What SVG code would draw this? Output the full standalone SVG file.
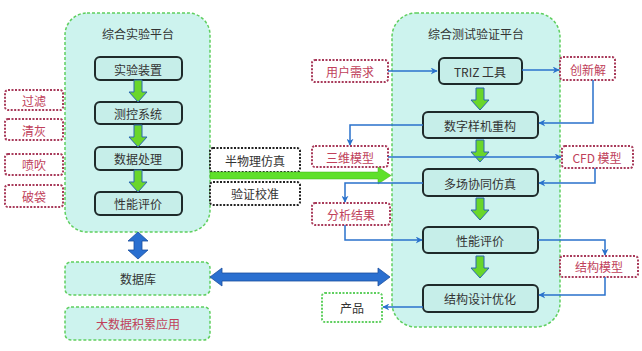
<svg xmlns="http://www.w3.org/2000/svg" width="642" height="351" viewBox="0 0 642 351">
<defs>
<style>
.plat{fill:#cdf3ee;stroke:#5fcf5f;stroke-width:1.5;stroke-dasharray:3 2}
.box{fill:#c6eee9;stroke:#1e2a2a;stroke-width:2}
.red{fill:#ffffff;stroke:#a83a5a;stroke-width:2;stroke-dasharray:2 1.5}
.blk{fill:#ffffff;stroke:#222;stroke-width:2;stroke-dasharray:2 1.5}
.grn{fill:#ffffff;stroke:#5fcf5f;stroke-width:2;stroke-dasharray:2 1.5}
.t{font-family:"Noto Sans CJK SC","Liberation Sans",sans-serif;font-size:12px;text-anchor:middle;dominant-baseline:central;fill:#333}
.tr{fill:#c0405a}
.bl{fill:none;stroke:#2a72cc;stroke-width:1.5}
.ga{fill:#6ad62a;stroke:#2a66b0;stroke-width:1}
</style>
<marker id="ah" viewBox="0 0 10 10" refX="9" refY="5" markerWidth="7" markerHeight="7" orient="auto" markerUnits="userSpaceOnUse">
<path d="M0,0 L10,5 L0,10 L3,5 z" fill="#2a72cc"/>
</marker>
<path id="gdown" d="M-4,0 H4 V12 H9 L0,22 L-9,12 H-4 z"/>
</defs>

<g id="left-platform">
<rect class="plat" x="65" y="13" width="145" height="219" rx="22"/>
<text class="t" x="138" y="33">综合实验平台</text>
</g>
<g id="test-platform">
<rect class="plat" x="392" y="13" width="168" height="314" rx="24"/>
<text class="t" x="476" y="33">综合测试验证平台</text>
</g>

<g id="n-syzz"><rect class="box" x="95" y="57" width="87" height="23" rx="5"/><text class="t" x="138" y="69">实验装置</text></g>
<g id="n-ckxt"><rect class="box" x="95" y="102" width="87" height="22" rx="5"/><text class="t" x="138" y="113">测控系统</text></g>
<g id="n-sjcl"><rect class="box" x="95" y="147" width="87" height="23" rx="5"/><text class="t" x="138" y="158">数据处理</text></g>
<g id="n-xnpj1"><rect class="box" x="95" y="192" width="87" height="23" rx="5"/><text class="t" x="138" y="203">性能评价</text></g>

<g id="n-gl"><rect class="red" x="5" y="90" width="58" height="20" rx="3"/><text class="t tr" x="34" y="100">过滤</text></g>
<g id="n-qh"><rect class="red" x="5" y="119" width="58" height="21" rx="3"/><text class="t tr" x="34" y="130">清灰</text></g>
<g id="n-pc"><rect class="red" x="5" y="154" width="58" height="21" rx="3"/><text class="t tr" x="34" y="164">喷吹</text></g>
<g id="n-pd"><rect class="red" x="5" y="185" width="58" height="22" rx="3"/><text class="t tr" x="34" y="196">破袋</text></g>

<g id="n-sjk"><rect class="plat" x="65" y="262" width="145" height="33" rx="6"/><text class="t" x="138" y="278">数据库</text></g>
<g id="n-dsj"><rect class="plat" x="65" y="307" width="145" height="33" rx="6"/><text class="t tr" x="138" y="323">大数据积累应用</text></g>

<g id="n-bwl"><rect class="blk" x="210" y="148" width="90" height="24" rx="3"/><text class="t" x="255" y="160">半物理仿真</text></g>
<g id="n-yzjz"><rect class="blk" x="210" y="182" width="90" height="23" rx="3"/><text class="t" x="255" y="193">验证校准</text></g>

<g id="n-triz"><rect class="box" x="439" y="58" width="83" height="26" rx="5"/><text class="t" x="480" y="71">TRIZ 工具</text></g>
<g id="n-szyj"><rect class="box" x="423" y="112" width="115" height="26" rx="5"/><text class="t" x="480" y="125">数字样机重构</text></g>
<g id="n-dcxt"><rect class="box" x="423" y="169" width="115" height="27" rx="5"/><text class="t" x="480" y="183">多场协同仿真</text></g>
<g id="n-xnpj2"><rect class="box" x="423" y="227" width="115" height="26" rx="5"/><text class="t" x="480" y="240">性能评价</text></g>
<g id="n-jgsj"><rect class="box" x="423" y="285" width="115" height="27" rx="5"/><text class="t" x="480" y="298">结构设计优化</text></g>

<g id="n-yhxq"><rect class="red" x="312" y="60" width="76" height="22" rx="3"/><text class="t tr" x="350" y="71">用户需求</text></g>
<g id="n-cxj"><rect class="red" x="560" y="57" width="55" height="23" rx="3"/><text class="t tr" x="588" y="69">创新解</text></g>
<g id="n-swmx"><rect class="red" x="312" y="146" width="76" height="21" rx="3"/><text class="t tr" x="350" y="157">三维模型</text></g>
<g id="n-cfd"><rect class="red" x="562" y="146" width="71" height="22" rx="3"/><text class="t tr" x="597" y="157">CFD 模型</text></g>
<g id="n-fxjg"><rect class="red" x="312" y="203" width="78" height="22" rx="3"/><text class="t tr" x="351" y="214">分析结果</text></g>
<g id="n-jgmx"><rect class="red" x="560" y="256" width="78" height="21" rx="3"/><text class="t tr" x="599" y="266">结构模型</text></g>
<g id="n-cp"><rect class="grn" x="322" y="293" width="60" height="29" rx="3"/><text class="t" x="352" y="307">产品</text></g>

<g id="connectors">
<use href="#gdown" x="138" y="80" class="ga"/>
<use href="#gdown" x="138" y="125" class="ga"/>
<use href="#gdown" x="138" y="170" class="ga"/>
<use href="#gdown" x="480" y="88" class="ga"/>
<use href="#gdown" x="480" y="140" class="ga"/>
<use href="#gdown" x="480" y="198" class="ga"/>
<use href="#gdown" x="480" y="256" class="ga" transform="translate(0,0)"/>
<path d="M210,172 H378 V167 L391,175.5 L378,184 V179 H210 z" fill="#5fe02a" stroke="#3fb01a" stroke-width="0.5"/>
<path d="M138,232 L148,241 H142 V250 H148 L138,259 L128,250 H134 V241 H128 z" fill="#2a6fd0" stroke="#1a4fa0" stroke-width="0.8"/>
<path d="M210,277 L222,268 V273 H378 V268 L390,277 L378,286 V281 H222 V286 z" fill="#2a6fd0" stroke="#1a4fa0" stroke-width="0.8"/>
<path class="bl" d="M388,71 H437" marker-end="url(#ah)"/>
<path class="bl" d="M522,70 H559" marker-end="url(#ah)"/>
<path class="bl" d="M593,80 V123 H539" marker-end="url(#ah)"/>
<path class="bl" d="M423,125 H350 V145" marker-end="url(#ah)"/>
<path class="bl" d="M388,157 H561" marker-end="url(#ah)"/>
<path class="bl" d="M595,168 V183 H539" marker-end="url(#ah)"/>
<path class="bl" d="M423,183 H345 V202" marker-end="url(#ah)"/>
<path class="bl" d="M345,225 V240 H422" marker-end="url(#ah)"/>
<path class="bl" d="M538,240 H605 V255" marker-end="url(#ah)"/>
<path class="bl" d="M605,277 V295 H539" marker-end="url(#ah)"/>
<path class="bl" d="M423,307 H383" marker-end="url(#ah)"/>
</g>
</svg>
